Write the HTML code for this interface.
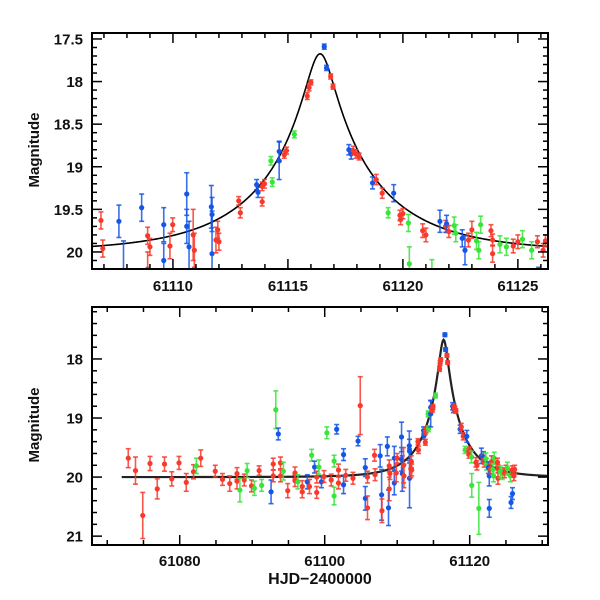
<!DOCTYPE html>
<html><head><meta charset="utf-8"><style>
html,body{margin:0;padding:0;background:#fff;}
svg{display:block;font-family:"Liberation Sans",sans-serif;}
</style></head><body>
<svg id="chart" width="600" height="600" viewBox="0 0 600 600" xmlns="http://www.w3.org/2000/svg"></svg>
<script>
// ---- data ----
const tObs = [
61072.9,61073.9,61074.9,61075.9,61076.9,61077.9,61078.9,61079.9,61080.9,61081.9,61082.3,61082.9,61084.9,61085.9,61086.9,61087.9,61087.9,61088.3,61088.9,61089.3,
61089.9,61090.3,61090.95,61091.3,61092.6,61092.9,61092.9,61093.25,61093.6,61093.9,61093.9,61094.3,61094.9,61095.9,61095.9,61096.3,61096.9,61096.9,61097.6,61097.9,
61098.2,61098.6,61098.9,61098.9,61099.2,61099.55,61099.9,61100.3,61100.9,61101.3,61101.3,61101.65,61101.9,61101.9,61102.6,61102.6,61102.9,61103.9,61104.6,61104.9,
61105.6,61105.6,61105.9,61105.9,61106.87,61106.95,61107.65,61107.85,61107.9,61108.64,61108.8,61108.9,61108.9,61109.0,61109.6,61109.6,61109.87,61109.99,61110.6,61110.6,
61110.7,61110.88,61110.93,61111.67,61111.7,61111.7,61111.87,61111.95,61112.0,61112.86,61112.93,61113.64,61113.7,61113.88,61113.88,61113.98,61114.26,61114.32,61114.62,61114.62,
61114.84,61114.94,61115.28,61115.84,61115.92,61116.0,61116.58,61116.68,61116.86,61116.96,61117.65,61117.75,61117.84,61117.96,61118.1,61118.68,61118.84,61119.1,61119.36,61119.6,
61119.87,61119.9,61120.0,61120.24,61120.28,61120.86,61121.0,61121.26,61121.61,61121.86,61121.9,61122.0,61122.23,61122.3,61122.58,61122.7,61122.7,61122.85,61123.0,61123.2,
61123.3,61123.38,61123.83,61123.9,61123.9,61124.22,61124.5,61124.8,61125.0,61125.2,61125.6,61125.7,61125.85,61125.9,61126.1,61126.2
];
const magObs = [
19.68,19.89,20.65,19.77,20.2,19.78,20.03,19.76,20.09,19.91,19.81,19.68,19.9,20.04,20.11,19.94,20.07,20.22,20.05,19.89,
20.15,20.19,19.89,20.14,20.25,19.78,19.98,18.86,19.27,19.76,19.98,19.9,20.23,19.93,20.06,20.08,20.16,20.25,20.08,20.16,
19.63,19.83,20.0,20.26,19.83,20.08,19.99,19.25,20.05,19.73,20.32,19.19,19.88,20.1,19.62,20.13,19.97,20.02,19.39,18.79,
19.84,20.36,20.0,20.52,19.63,19.96,19.64,20.3,20.57,19.48,20.52,19.81,20.2,19.94,19.68,20.1,19.93,19.68,19.32,19.7,
19.94,19.8,19.98,19.47,19.56,20.02,19.86,19.74,19.88,19.4,19.54,19.21,19.3,19.23,19.41,19.2,18.93,19.18,18.82,18.93,
18.86,18.81,18.62,18.17,18.07,18.01,17.59,17.84,17.94,18.06,18.8,18.85,18.81,18.85,18.88,19.19,19.15,19.31,19.54,19.31,
19.57,19.62,19.55,19.66,20.14,19.75,19.8,20.53,19.64,19.7,19.67,19.76,19.69,19.78,19.84,19.98,20.53,19.86,19.74,19.87,
19.98,19.68,19.75,19.86,20.02,19.91,19.94,19.93,19.88,19.85,19.98,20.43,19.88,20.28,19.98,19.87
];
const errObs = [
0.16,0.23,0.39,0.12,0.17,0.12,0.12,0.11,0.15,0.12,0.13,0.14,0.1,0.1,0.13,0.1,0.13,0.2,0.1,0.12,
0.1,0.12,0.08,0.1,0.2,0.1,0.1,0.32,0.1,0.1,0.1,0.15,0.12,0.1,0.1,0.12,0.1,0.1,0.12,0.12,
0.1,0.1,0.1,0.1,0.12,0.1,0.1,0.1,0.1,0.1,0.15,0.08,0.1,0.1,0.1,0.15,0.1,0.1,0.08,0.49,
0.15,0.2,0.1,0.2,0.1,0.1,0.19,0.43,0.2,0.16,0.3,0.1,0.2,0.1,0.2,0.2,0.15,0.08,0.25,0.2,
0.3,0.3,0.2,0.25,0.2,0.5,0.15,0.1,0.1,0.05,0.06,0.06,0.06,0.05,0.05,0.05,0.05,0.05,0.12,0.22,
0.04,0.04,0.04,0.04,0.04,0.03,0.03,0.03,0.03,0.03,0.06,0.06,0.05,0.05,0.04,0.07,0.06,0.06,0.06,0.1,
0.06,0.06,0.06,0.1,0.2,0.08,0.08,0.44,0.13,0.07,0.1,0.07,0.1,0.1,0.1,0.17,0.15,0.08,0.1,0.1,
0.1,0.1,0.07,0.07,0.1,0.1,0.1,0.08,0.08,0.1,0.1,0.1,0.07,0.1,0.08,0.07
];
const telObs = [
"R","R","R","R","R","R","R","R","R","R","G","R","R","R","R","R","R","G","R","G",
"R","G","R","G","B","R","R","G","B","R","R","G","R","R","R","G","R","R","B","R",
"G","B","R","R","G","B","R","G","R","G","G","B","R","R","B","B","R","R","B","R",
"B","B","R","R","R","R","B","B","R","B","B","R","R","R","B","B","R","R","B","B",
"B","R","R","B","B","B","R","R","R","R","R","B","B","R","R","R","G","G","B","B",
"R","R","G","R","R","R","B","B","R","R","B","B","R","R","R","B","R","R","G","B",
"R","R","R","G","G","R","R","G","B","R","B","R","G","G","B","B","B","R","R","G",
"G","G","R","R","R","G","G","R","R","G","G","B","R","B","R","R"
];
// model parameters (Paczynski)
const modelT0 = 61116.4, modelTE = 5.0, modelU0 = 0.118, modelBase = 20.0;

const colors = {R:"#f73a2c", B:"#1556e6", G:"#38e53a"};
const NS = "http://www.w3.org/2000/svg";
const svg = document.getElementById("chart");
function mk(tag, attrs, parent){ const e=document.createElementNS(NS,tag); for(const k in attrs) e.setAttribute(k,attrs[k]); (parent||svg).appendChild(e); return e; }
function model(t){ const u=Math.sqrt(modelU0*modelU0+Math.pow((t-modelT0)/modelTE,2)); const A=(u*u+2)/(u*Math.sqrt(u*u+4)); return modelBase-2.5*Math.log10(A); }

const panels = [
 {name:"top", x0:92, x1:548, y0:33, y1:269, t0:61106.48, t1:61126.31, m0:17.43, m1:20.2,
  xMajor:5, xMinor:1, xStart:61110, yMajor:0.5, yMinor:0.1, ylabels:[17.5,18,18.5,19,19.5,20],
  lblY:291, magY:150, mStart:61106.48, lw:1.6, lineCol:"#000"},
 {name:"bottom", x0:92, x1:548, y0:307, y1:545, t0:61067.9, t1:61130.8, m0:17.12, m1:21.15,
  xMajor:20, xMinor:5, xStart:61080, yMajor:1, yMinor:0.2, ylabels:[18,19,20,21],
  lblY:566, magY:425, mStart:61072, lw:2.2, lineCol:"#222"}
];

panels.forEach((p,pi)=>{
  const X = t => p.x0 + (t-p.t0)/(p.t1-p.t0)*(p.x1-p.x0);
  const Y = m => p.y0 + (m-p.m0)/(p.m1-p.m0)*(p.y1-p.y0);
  const g = mk("g",{});
  
  
  const defs = mk("defs",{},g);
  const cp = mk("clipPath",{id:"clip"+pi},defs);
  mk("rect",{x:p.x0,y:p.y0,width:p.x1-p.x0,height:p.y1-p.y0},cp);
  const plot = mk("g",{"clip-path":"url(#clip"+pi+")"},g);
  
  
  let d=""; const n=600;
  for(let i=0;i<=n;i++){ const t=p.mStart+(p.t1-p.mStart)*i/n; d+=(i?"L":"M")+X(t).toFixed(2)+","+Y(model(t)).toFixed(2); }
  const line = mk("path",{d:d,fill:"none",stroke:p.lineCol,"stroke-width":p.lw},plot);
  
  
  for(let i=0;i<tObs.length;i++){
    const c=colors[telObs[i]];
    const x=X(tObs[i]), y=Y(magObs[i]), ya=Y(magObs[i]-errObs[i]), yb=Y(magObs[i]+errObs[i]);
    const pg = mk("g",{stroke:c,fill:c},plot);
    
    
    mk("line",{x1:x,y1:ya,x2:x,y2:yb,"stroke-width":1.6,"stroke-opacity":0.85},pg);
    mk("line",{x1:x-2.5,y1:ya,x2:x+2.5,y2:ya,"stroke-width":1.6,"stroke-opacity":0.85},pg);
    mk("line",{x1:x-2.5,y1:yb,x2:x+2.5,y2:yb,"stroke-width":1.6,"stroke-opacity":0.85},pg);
    mk("circle",{cx:x,cy:y,r:2.6,stroke:"none"},pg);
  }
  const tk = mk("g",{stroke:"#000","stroke-width":1.5},g);
  
  
  const tmin=Math.ceil(p.t0/p.xMinor)*p.xMinor;
  for(let t=tmin;t<=p.t1+1e-6;t+=p.xMinor){
    const major=Math.abs(((t-p.xStart)/p.xMajor)-Math.round((t-p.xStart)/p.xMajor))<1e-6;
    const L=major?10:5, x=X(t);
    mk("line",{x1:x,y1:p.y1,x2:x,y2:p.y1-L},tk);
    mk("line",{x1:x,y1:p.y0,x2:x,y2:p.y0+L},tk);
  }
  const mmin=Math.ceil(p.m0/p.yMinor-1e-6)*p.yMinor;
  for(let m=mmin;m<=p.m1+1e-6;m+=p.yMinor){
    const r=m/p.yMajor; const major=Math.abs(r-Math.round(r))<1e-6;
    const L=major?10:5, y=Y(m);
    mk("line",{x1:p.x0,y1:y,x2:p.x0+L,y2:y},tk);
    mk("line",{x1:p.x1,y1:y,x2:p.x1-L,y2:y},tk);
  }
  const fr = mk("rect",{x:p.x0,y:p.y0,width:p.x1-p.x0,height:p.y1-p.y0,fill:"none",stroke:"#000","stroke-width":2},g);
  
  
  p.ylabels.forEach(m=>{
    const tx=mk("text",{x:p.x0-9,y:Y(m)+5.5,"text-anchor":"end","font-size":15,"font-weight":"bold",fill:"#111"},g);
    tx.textContent=String(m);
    
    
  });
  for(let t=p.xStart;t<=p.t1;t+=p.xMajor){
    const tx=mk("text",{x:X(t),y:p.lblY,"text-anchor":"middle","font-size":15,"font-weight":"bold",fill:"#111"},g);
    tx.textContent=String(t);
    
    
  }
  const yt=mk("text",{x:0,y:0,"text-anchor":"middle","font-size":15,"font-weight":"bold",fill:"#111",transform:"translate(39,"+p.magY+") rotate(-90)"},g);
  yt.textContent="Magnitude";
  
  
});
const xt=mk("text",{x:320,y:584,"text-anchor":"middle","font-size":16,"font-weight":"bold",fill:"#111"});
xt.textContent="HJD\u22122400000";


</script>
</body></html>
